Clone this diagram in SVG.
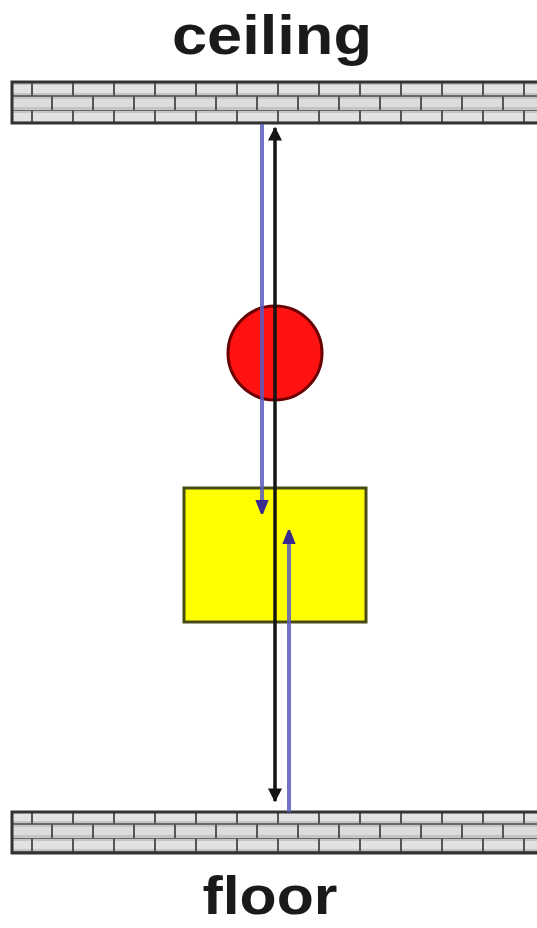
<svg xmlns="http://www.w3.org/2000/svg" width="537" height="928" viewBox="0 0 537 928">
<style>
.lbl{font-family:"Liberation Sans",Arial,sans-serif;font-weight:bold;fill:#1a1a1a}
.bar{fill:url(#bricks);stroke:#333333;stroke-width:3}
.blk{stroke:#151515;stroke-width:3.5;fill:none}
.blu{stroke:#5a5ac0;stroke-width:4;fill:none;stroke-opacity:0.85}
</style>
<defs>
<pattern id="bricks" patternUnits="userSpaceOnUse" x="12" y="82" width="41" height="28">
<rect width="41" height="28" fill="#c4c4c4"/>
<rect x="0" y="3" width="41" height="8" fill="#e2e2e2"/>
<rect x="0" y="17" width="41" height="8" fill="#dcdcdc"/>
<line x1="0" y1="14" x2="41" y2="14" stroke="#6a6a6a" stroke-width="2"/>
<line x1="0" y1="0" x2="41" y2="0" stroke="#6a6a6a" stroke-width="2"/>
<line x1="20" y1="0" x2="20" y2="14" stroke="#555" stroke-width="2"/>
<line x1="40" y1="14" x2="40" y2="28" stroke="#555" stroke-width="2"/>
</pattern>
<marker id="ab" viewBox="0 0 10 10" refX="9" refY="5" markerWidth="4" markerHeight="4" orient="auto" markerUnits="strokeWidth">
<path d="M0,0 L10,5 L0,10 z" fill="#151515"/>
</marker>
<marker id="au" viewBox="0 0 10 10" refX="8" refY="5" markerWidth="3.5" markerHeight="3.5" orient="auto" markerUnits="strokeWidth">
<path d="M0,1 L10,5 L0,9 z" fill="#3a2a90" stroke="#3a2a90" stroke-width="1.5" stroke-linejoin="round"/>
</marker>
</defs>
<rect width="537" height="928" fill="#ffffff"/>
<g id="ceiling">
<rect class="bar" x="12" y="82" width="530" height="41"/>
<text class="lbl" x="272" y="54" font-size="56" text-anchor="middle" textLength="200" lengthAdjust="spacingAndGlyphs">ceiling</text>
</g>
<g id="floor">
<rect class="bar" x="12" y="812" width="530" height="41"/>
<text class="lbl" x="270" y="914" font-size="54" text-anchor="middle" textLength="135" lengthAdjust="spacingAndGlyphs">floor</text>
</g>
<g id="box">
<rect x="184" y="488" width="182" height="134" fill="#ffff00" stroke="#4a4a18" stroke-width="3"/>
</g>
<g id="ball">
<circle cx="275" cy="353" r="47" fill="#ff1212" stroke="#6a0000" stroke-width="3"/>
</g>
<g id="connectors">
<line class="blk" x1="275" y1="465" x2="275" y2="128" marker-end="url(#ab)"/>
<line class="blk" x1="275" y1="465" x2="275" y2="801" marker-end="url(#ab)"/>
<line class="blu" x1="262" y1="124" x2="262" y2="511" marker-end="url(#au)"/>
<line class="blu" x1="289" y1="812" x2="289" y2="533" marker-end="url(#au)"/>
</g>
</svg>
